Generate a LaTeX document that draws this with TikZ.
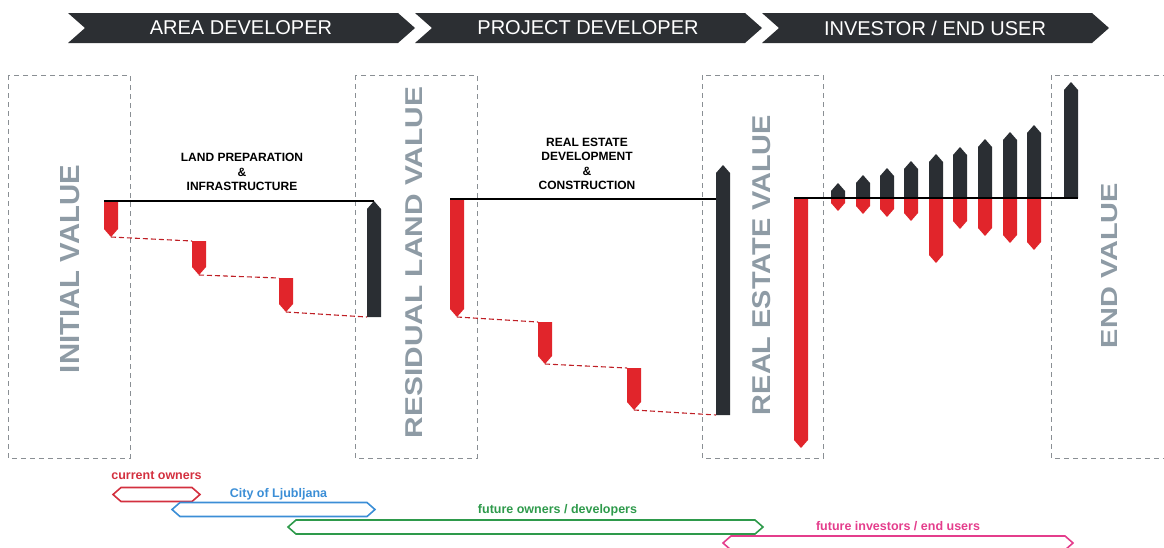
\documentclass[tikz,border=0pt]{standalone}
\usepackage{fontspec}
\setmainfont{Liberation Sans}
\usepackage{graphicx}
\usepackage{xcolor}
\usetikzlibrary{positioning}

\definecolor{phasefill}{HTML}{2C2F33}
\definecolor{gainbar}{HTML}{2A2E33}
\definecolor{lossbar}{HTML}{E1252B}
\definecolor{valuegrey}{HTML}{8E9BA5}
\definecolor{boxgrey}{HTML}{8A8F94}
\definecolor{ownred}{HTML}{D3303F}
\definecolor{cityblue}{HTML}{3B8ED6}
\definecolor{devgreen}{HTML}{2E9A4B}
\definecolor{invpink}{HTML}{E43D8C}

\tikzset{phasetext/.style={text=white, font=\fontsize{20}{22}\selectfont},
valuebox/.style={draw=boxgrey, line width=1pt, dash pattern=on 5pt off 4pt},
valuetext/.style={rotate=90, text=valuegrey, font=\bfseries, inner sep=0pt},
basis/.style={line width=1.2pt, black},
costlink/.style={draw=lossbar!85!black, line width=1.1pt, dash pattern=on 5pt off 3pt},
stagetext/.style={font=\bfseries\fontsize{12}{14.5}\selectfont, align=center},
lane/.style={line width=1.6pt},
lanetext/.style={font=\bfseries\fontsize{12.5}{14}\selectfont, anchor=base}}

\newcommand{\dropbar}[4]{%
	\fill[lossbar] (#2,#3) -- (#2+14,#3) -- (#2+14,#4-8) -- (#2+7,#4) -- (#2,#4-8) -- cycle;
	\coordinate (#1-tl) at (#2,#3);
	\coordinate (#1-tip) at (#2+7,#4);}
\newcommand{\risebar}[4]{%
	\fill[gainbar] (#2,#3) -- (#2+14,#3) -- (#2+14,#4+8) -- (#2+7,#4) -- (#2,#4+8) -- cycle;
	\coordinate (#1-bl) at (#2,#3);
	\coordinate (#1-br) at (#2+14,#3);
	\coordinate (#1-tip) at (#2+7,#4);}
\newcommand{\lanepath}[5]{%
	\draw[lane,#5] (#2,#4) -- (#2+8,#4-7) -- (#3-8,#4-7) -- (#3,#4) -- (#3-8,#4+7) -- (#2+8,#4+7) -- cycle;
	\coordinate (#1) at ({(#2+#3)/2},#4-7);}

\begin{document}
\begin{tikzpicture}[x=1pt, y=-1pt]
	\useasboundingbox (0,0) rectangle (1164,547);

	\foreach \x in {68,415,762}
		\fill[phasefill] (\x,13) -- (\x+330,13) -- (\x+347,28) -- (\x+330,43) -- (\x,43) -- (\x+17,28) -- cycle;
	\node[phasetext] (areadev) at (241,28) {AREA DEVELOPER};
	\node[phasetext] (projdev) at (588,28) {PROJECT DEVELOPER};
	\node[phasetext] (investor) at (935,28) {INVESTOR / END USER};

	\draw[valuebox] (8,75) rectangle (130,458);
	\draw[valuebox] (355,75) rectangle (477,458);
	\draw[valuebox] (702,75) rectangle (823,458);
	\draw[valuebox] (1051,75) rectangle (1172,458);
	\node[valuetext] (initval) at (70,269) {\resizebox{208pt}{19pt}{INITIAL VALUE}};
	\node[valuetext] (landval) at (414,262.5) {\resizebox{351pt}{17pt}{RESIDUAL LAND VALUE}};
	\node[valuetext] (estval) at (762,265) {\resizebox{300pt}{18pt}{REAL ESTATE VALUE}};
	\node[valuetext] (endval) at (1110,265.5) {\resizebox{165pt}{16pt}{END VALUE}};

	\node[stagetext] (landprep) at (242,172) {LAND PREPARATION\\\&\\INFRASTRUCTURE};
	\node[stagetext] (construct) at (587,164) {REAL ESTATE\\DEVELOPMENT\\\&\\CONSTRUCTION};

	\dropbar{a1}{104}{201}{237}
	\dropbar{a2}{192}{241}{275}
	\dropbar{a3}{279}{278}{312}
	\risebar{a4}{367}{317}{201}
	\draw[basis] (a1-tl) -- (a4-tip);
	\draw[costlink] (a1-tip) -- (a2-tl);
	\draw[costlink] (a2-tip) -- (a3-tl);
	\draw[costlink] (a3-tip) -- (a4-bl);

	\dropbar{b1}{450}{199}{317}
	\dropbar{b2}{538}{322}{364}
	\dropbar{b3}{627}{368}{410}
	\risebar{b4}{716}{415}{165}
	\draw[basis] (b1-tl) -- (b1-tl -| b4-bl);
	\draw[costlink] (b1-tip) -- (b2-tl);
	\draw[costlink] (b2-tip) -- (b3-tl);
	\draw[costlink] (b3-tip) -- (b4-bl);

	\dropbar{c0}{794}{198}{448}
	\foreach \x/\up/\dn [count=\i] in {831/183/211, 856/175/214, 880/168/217, 904/161/221, 929/154/263, 953/147/229, 978/139/236, 1003/132/243, 1027/125/250}{
		\risebar{up\i}{\x}{198}{\up}
		\dropbar{dn\i}{\x}{198}{\dn}
	}
	\risebar{c10}{1064}{198}{82}
	\draw[basis] (c0-tl) -- (c10-br);

	\lanepath{own}{113}{200}{494.5}{ownred}
	\lanepath{city}{172}{375}{509.5}{cityblue}
	\lanepath{dev}{288}{763}{527}{devgreen}
	\lanepath{inv}{723}{1073}{543}{invpink}
	\node[lanetext, text=ownred, above=8pt of own, anchor=base] (ownlbl) {current owners};
	\node[lanetext, text=cityblue, above=5pt of city, anchor=base, xshift=5pt] (citylbl) {City of Ljubljana};
	\node[lanetext, text=devgreen, above=7pt of dev, anchor=base, xshift=32pt] (devlbl) {future owners / developers};
	\node[lanetext, text=invpink, above=6pt of inv, anchor=base] (invlbl) {future investors / end users};
\end{tikzpicture}
\end{document}
